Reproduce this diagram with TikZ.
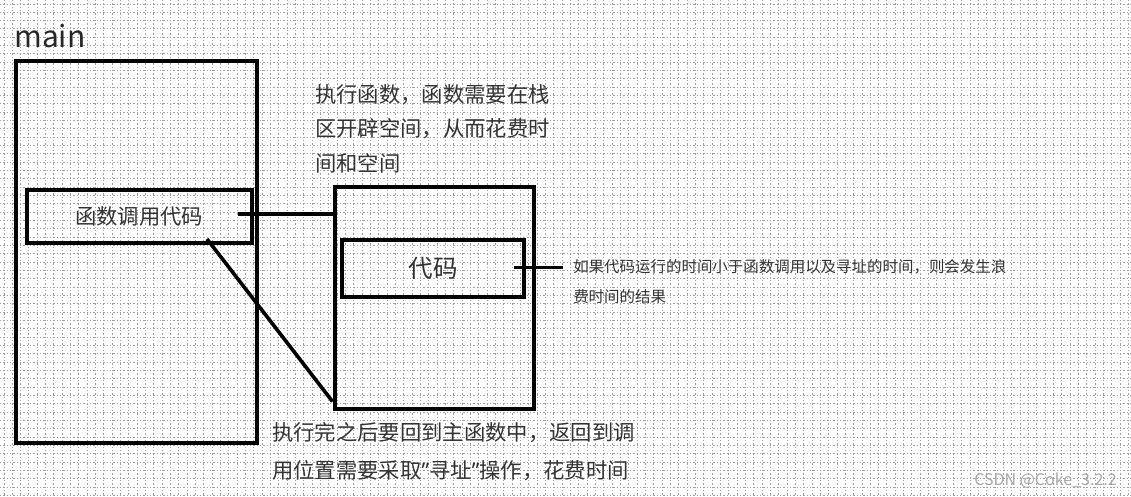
\documentclass[tikz,border=0pt]{standalone}
\usepackage{fontspec}
\newfontfamily\cjk{Noto Sans CJK SC}
\newfontfamily\latn{Noto Sans}
\usetikzlibrary{positioning,calc}

\begin{document}
\begin{tikzpicture}[x=0.75pt, y=-0.75pt,
  frame/.style={draw, line width=3pt, inner sep=0pt},
  link/.style={line width=2.7pt},
  note/.style={font=\cjk\fontsize{16}{26}\selectfont, text=black!80, align=left,
               anchor=north west, inner sep=0pt},
  gridline/.style={gray!75, line width=0.75pt, dash pattern=on 1pt off 1.5pt}
]
\useasboundingbox (0,0) rectangle (1131,496);
%% background grid
\foreach \i in {0,...,135} \draw[gridline] (4+8.33*\i,0) -- (4+8.33*\i,496);
\foreach \j in {0,...,59} \draw[gridline] (0,4+8.33*\j) -- (1131,4+8.33*\j);

%% main frame
\node[font=\cjk\fontsize{22.5}{27}\selectfont, text=black!85, anchor=base west, inner sep=0pt]
      (mainlbl) at (14,47) {main};
\node[frame, minimum width=180.75pt, minimum height=286.5pt] (mainbox) at (136.5,252) {};
\node[frame, minimum width=168.75pt, minimum height=39.75pt, text=black!80,
      font=\cjk\fontsize{16}{19}\selectfont] (callbox) at (139,216) {函数调用代码};

%% called function frame
\node[frame, minimum width=149.25pt, minimum height=166.5pt] (funcbox) at (434,297.5) {};
\node[frame, minimum width=136.5pt, minimum height=42.3pt, text=black!80,
      font=\cjk\fontsize{18.4}{22}\selectfont] (codebox) at (433.3,268.5) {代码};

%% notes
\node[note] (callnote) at (315,84) {执行函数，函数需要在栈\\区开辟空间，从而花费时\\间和空间};
\node[note, font=\cjk\fontsize{11.6}{22.5}\selectfont] (wastenote) at (573,259)
      {如果代码运行的时间小于函数调用以及寻址的时间，则会发生浪\\费时间的结果};
\node[note, font=\cjk\fontsize{16}{28.5}\selectfont] (retnote) at (272,422)
      {执行完之后要回到主函数中，返回到调\\用位置需要采取{\latn ”}寻址{\latn ”}操作，花费时间};

%% connectors
\coordinate (callout) at (238,214);
\draw[link] (callout) -- (callout -| funcbox.west);
\coordinate (callret) at (207,239);
\draw[link] (callret) -- ([yshift=6.75pt]funcbox.south west);
\coordinate (codeout) at (514,267.5);
\coordinate (noteend) at (563,267.5);
\draw[link] (codeout) -- (noteend);

\node[font=\cjk\fontsize{12}{14}\selectfont, text=gray!70, anchor=east, inner sep=0pt]
      (mark) at (1117,481) {CSDN @Coke\_3.2.2};
\end{tikzpicture}
\end{document}
